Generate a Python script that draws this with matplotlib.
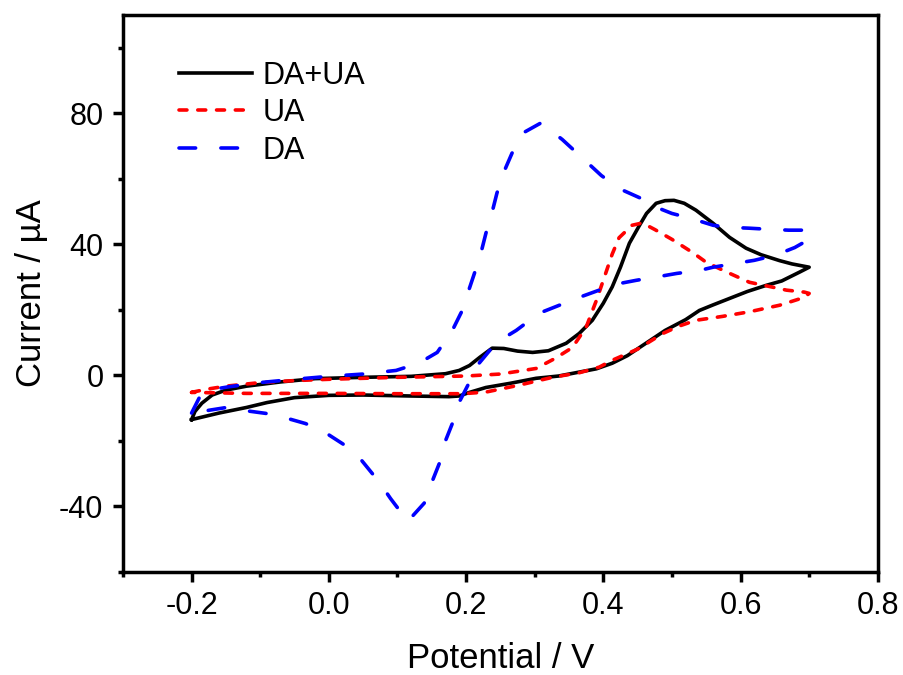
import matplotlib

matplotlib.use("Agg")
import matplotlib.pyplot as plt
import numpy as np
from matplotlib.ticker import MultipleLocator

plt.rcParams["font.family"] = ["Liberation Sans", "DejaVu Sans"]

# DA+UA (black, solid) - forward sweep then return sweep
mix_v = [-0.200, -0.195, -0.185, -0.170, -0.150, -0.120, -0.070, -0.020, 0.050, 0.120,
         0.170, 0.190, 0.205, 0.220, 0.238, 0.255, 0.275, 0.297, 0.320, 0.346,
         0.365, 0.384, 0.400, 0.413, 0.425, 0.438, 0.452, 0.463, 0.477, 0.490,
         0.503, 0.518, 0.535, 0.560, 0.584, 0.608, 0.630, 0.657, 0.675, 0.690, 0.700,
         0.686, 0.660, 0.638, 0.610, 0.588, 0.560, 0.540, 0.520, 0.490, 0.460,
         0.435, 0.413, 0.390, 0.365, 0.335, 0.302, 0.265, 0.229, 0.205, 0.190,
         0.175, 0.120, 0.050, 0.000, -0.050, -0.090, -0.120, -0.160, -0.200]
mix_i = [-13.5, -11.0, -8.5, -6.0, -4.5, -3.3, -2.0, -1.0, -0.6, -0.3,
         0.5, 1.5, 3.0, 5.5, 8.3, 8.2, 7.4, 7.0, 7.5, 9.8,
         12.8, 16.8, 22.0, 27.0, 33.0, 40.3, 45.5, 49.4, 52.5, 53.3,
         53.4, 52.5, 50.4, 46.4, 42.1, 38.8, 36.8, 35.0, 34.0, 33.4, 33.0,
         31.5, 28.8, 27.5, 25.6, 23.8, 21.5, 19.8, 17.0, 13.7, 9.5,
         6.0, 3.7, 2.0, 1.0, -0.2, -0.9, -2.4, -3.7, -5.2, -6.3,
         -6.5, -6.3, -6.0, -6.1, -6.8, -8.3, -9.8, -11.5, -13.5]

# UA (red, dotted)
ua_v = [-0.200, -0.180, -0.150, -0.100, -0.050, 0.000, 0.100, 0.200, 0.250, 0.302,
        0.330, 0.355, 0.375, 0.390, 0.400, 0.413, 0.423, 0.442, 0.457, 0.475,
        0.500, 0.530, 0.550, 0.580, 0.613, 0.638, 0.667, 0.693, 0.700,
        0.693, 0.657, 0.613, 0.574, 0.535, 0.510, 0.487, 0.450, 0.413, 0.394,
        0.365, 0.326, 0.277, 0.229, 0.195, 0.100, 0.000, -0.120, -0.200]
ua_i = [-5.2, -4.3, -3.3, -2.2, -1.6, -1.2, -0.6, -0.2, 0.4, 2.1,
        5.2, 8.5, 14.7, 22.9, 29.0, 37.0, 42.0, 45.8, 46.5, 44.5,
        41.5, 37.5, 34.5, 31.5, 28.4, 27.3, 26.0, 25.4, 25.0,
        23.8, 21.4, 19.4, 18.0, 16.8, 15.0, 12.8, 8.0, 4.6, 2.5,
        0.8, -0.6, -3.0, -5.1, -5.6, -5.6, -5.5, -5.5, -5.2]

# DA (blue, dashed)
da_v = [-0.200, -0.187, -0.170, -0.146, -0.100, -0.050, 0.000, 0.050, 0.098, 0.131,
        0.158, 0.180, 0.193, 0.204, 0.212, 0.222, 0.229, 0.238, 0.245, 0.255,
        0.267, 0.285, 0.309, 0.340, 0.365, 0.397, 0.423, 0.455, 0.477, 0.500,
        0.526, 0.560, 0.580, 0.613, 0.638, 0.670, 0.700,
        0.700, 0.679, 0.650, 0.620, 0.594, 0.560, 0.540, 0.507, 0.477, 0.448,
        0.423, 0.394, 0.365, 0.336, 0.307, 0.273, 0.244, 0.219, 0.190, 0.180,
        0.169, 0.161, 0.150, 0.139, 0.120, 0.115, 0.090, 0.074, 0.048, 0.024,
        -0.010, -0.034, -0.066, -0.092, -0.124, -0.149, -0.200]
da_i = [-11.5, -6.1, -4.3, -3.5, -2.2, -1.2, -0.3, 0.4, 1.5, 3.7,
        7.0, 13.7, 19.2, 26.0, 31.0, 37.6, 43.4, 49.8, 55.6, 62.0,
        67.8, 74.2, 77.0, 72.0, 67.2, 61.0, 57.0, 54.0, 51.3, 49.4,
        48.0, 45.8, 45.2, 44.9, 44.6, 44.3, 44.3,
        41.5, 39.0, 36.6, 35.1, 34.2, 33.0, 32.0, 31.1, 30.0, 29.0,
        28.0, 26.0, 23.8, 21.4, 19.0, 13.7, 10.0, 3.7, -8.2, -14.7,
        -20.5, -26.9, -32.7, -39.0, -43.4, -44.5, -37.6, -32.7, -26.0, -21.4,
        -16.8, -14.7, -12.8, -11.6, -10.7, -9.8, -11.5]

fig = plt.figure(figsize=(9.04, 6.75), dpi=100)
ax = fig.add_axes([0.136, 0.1526, 0.835, 0.8254])

lw = 2.6
ax.plot(mix_v, mix_i, color="black", lw=lw, label="DA+UA",
        solid_joinstyle="round")
ax.plot(ua_v, ua_i, color="#ff0000", lw=lw, dashes=(2.2, 3.0),
        dash_capstyle="round", label="UA")
ax.plot(da_v, da_i, color="#0000ff", lw=lw, dashes=(4.6, 7.0),
        dash_capstyle="round", label="DA")

ax.set_xlim(-0.3, 0.8)
ax.set_ylim(-60, 110)
ax.xaxis.set_minor_locator(MultipleLocator(0.1))
ax.yaxis.set_minor_locator(MultipleLocator(20))
ax.set_xticks(np.arange(-0.2, 0.81, 0.2))
ax.set_xticklabels(["-0.2", "0.0", "0.2", "0.4", "0.6", "0.8"])
ax.set_yticks([-40, 0, 40, 80])
ax.set_yticklabels(["-40", "0", "40", "80"])

for sp in ax.spines.values():
    sp.set_linewidth(2.5)
ax.tick_params(which="major", direction="out", length=7, width=2.5,
               labelsize=22, pad=7)
ax.tick_params(which="minor", direction="out", length=3.5, width=2.5)

ax.set_xlabel("Potential / V", fontsize=25, labelpad=15)
ax.set_ylabel("Current / µA", fontsize=25, labelpad=8)

ax.legend(loc="upper left", frameon=False, fontsize=22, handlelength=2.4,
          handletextpad=0.35, labelspacing=0.25,
          bbox_to_anchor=(0.058, 0.94), borderaxespad=0.0)

fig.savefig("out.png", dpi=100)
